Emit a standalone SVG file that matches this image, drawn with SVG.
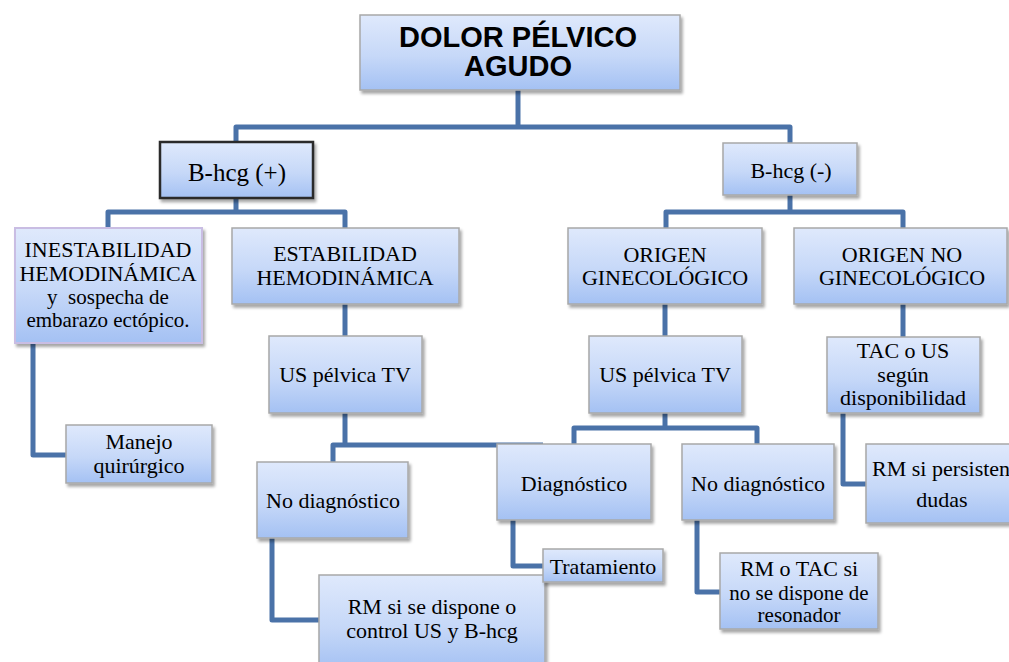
<svg xmlns="http://www.w3.org/2000/svg" width="1009" height="662" viewBox="0 0 1009 662">
<defs>
<linearGradient id="g" x1="0" y1="0" x2="0" y2="1">
<stop offset="0" stop-color="#dfe9fc"/>
<stop offset="0.55" stop-color="#c6d8f8"/>
<stop offset="1" stop-color="#a4c1f3"/>
</linearGradient>
<filter id="sh" x="-10%" y="-10%" width="125%" height="130%">
<feDropShadow dx="2" dy="3" stdDeviation="1.5" flood-color="#000" flood-opacity="0.35"/>
</filter>
<style>
.box{fill:url(#g);stroke:#a8a8a8;stroke-width:1.5;filter:url(#sh)}
.dark{stroke:#2b2b2b;stroke-width:2.5}
.pur{stroke:#c9bde3;stroke-width:2}
.t{font-family:"Liberation Serif","Times New Roman",serif;font-size:22px;fill:#000;text-anchor:middle}
.s{font-size:21px}
.title{font-family:"Liberation Sans",Arial,sans-serif;font-weight:bold;font-size:29px;fill:#000;text-anchor:middle}
.c{fill:none;stroke:#4a72a8;stroke-width:5;stroke-linejoin:round}
</style>
</defs>
<rect width="1009" height="662" fill="#fff"/>
<g id="connectors">
<path class="c" d="M518,90 V127"/>
<path class="c" d="M236,142 V127 H790 V143"/>
<path class="c" d="M236,198 V212"/>
<path class="c" d="M108,228 V212 H345 V228"/>
<path class="c" d="M33,343 V455 H66"/>
<path class="c" d="M345,304 V336"/>
<path class="c" d="M345,413 V445"/>
<path class="c" d="M333,462 V445 H543"/>
<path class="c" d="M272,538 V620 H319"/>
<path class="c" d="M790,195 V212"/>
<path class="c" d="M666,228 V212 H903 V228"/>
<path class="c" d="M665,304 V336"/>
<path class="c" d="M903,304 V337"/>
<path class="c" d="M665,413 V428"/>
<path class="c" d="M574,444 V428 H757 V444"/>
<path class="c" d="M513,520 V566 H543"/>
<path class="c" d="M697,520 V592 H720"/>
<path class="c" d="M843,413 V484 H866"/>
</g>
<g id="root">
<rect class="box" x="360" y="15" width="320" height="75"/>
<text class="title" x="518" y="47">DOLOR PÉLVICO</text>
<text class="title" x="518" y="76">AGUDO</text>
</g>
<g id="bhcg-pos">
<rect class="box dark" x="160" y="142" width="153" height="56"/>
<text class="t" x="237" y="181" style="font-size:25px">B-hcg (+)</text>
</g>
<g id="bhcg-neg">
<rect class="box" x="723" y="143" width="134" height="52"/>
<text class="t" x="791" y="178">B-hcg (-)</text>
</g>
<g id="inestabilidad">
<rect class="box pur" x="15" y="228" width="187" height="115"/>
<text class="t" x="108" y="257">INESTABILIDAD</text>
<text class="t" x="108" y="281">HEMODINÁMICA</text>
<text class="t s" x="108" y="304" xml:space="preserve">y  sospecha de</text>
<text class="t s" x="108" y="327">embarazo ectópico.</text>
</g>
<g id="estabilidad">
<rect class="box" x="232" y="228" width="227" height="76"/>
<text class="t" x="345" y="261">ESTABILIDAD</text>
<text class="t" x="345" y="285">HEMODINÁMICA</text>
</g>
<g id="origen-gin">
<rect class="box" x="568" y="228" width="194" height="76"/>
<text class="t" x="665" y="262">ORIGEN</text>
<text class="t" x="665" y="285">GINECOLÓGICO</text>
</g>
<g id="origen-no-gin">
<rect class="box" x="794" y="228" width="213" height="76"/>
<text class="t" x="902" y="262">ORIGEN NO</text>
<text class="t" x="902" y="285">GINECOLÓGICO</text>
</g>
<g id="manejo">
<rect class="box" x="66" y="425" width="146" height="58"/>
<text class="t" x="139" y="449">Manejo</text>
<text class="t" x="139" y="473">quirúrgico</text>
</g>
<g id="us-left">
<rect class="box" x="269" y="336" width="153" height="77"/>
<text class="t" x="345" y="382">US pélvica TV</text>
</g>
<g id="us-right">
<rect class="box" x="589" y="336" width="153" height="77"/>
<text class="t" x="665" y="382">US pélvica TV</text>
</g>
<g id="tac-us">
<rect class="box" x="827" y="337" width="153" height="76"/>
<text class="t" x="903" y="358">TAC o US</text>
<text class="t" x="903" y="382">según</text>
<text class="t" x="903" y="405">disponibilidad</text>
</g>
<g id="no-diag-left">
<rect class="box" x="257" y="462" width="151" height="76"/>
<text class="t" x="333" y="508">No diagnóstico</text>
</g>
<g id="diagnostico">
<rect class="box" x="497" y="444" width="154" height="76"/>
<text class="t" x="574" y="491">Diagnóstico</text>
</g>
<g id="no-diag-right">
<rect class="box" x="682" y="444" width="152" height="76"/>
<text class="t" x="758" y="491">No diagnóstico</text>
</g>
<g id="rm-persisten">
<rect class="box" x="866" y="444" width="152" height="79"/>
<text class="t" x="872" y="476" style="text-anchor:start">RM si persisten</text>
<text class="t" x="942" y="507">dudas</text>
</g>
<g id="rm-control">
<rect class="box" x="319" y="575" width="226" height="95"/>
<text class="t" x="432" y="614">RM si se dispone o</text>
<text class="t" x="432" y="638">control US y B-hcg</text>
</g>
<g id="tratamiento">
<rect class="box" x="543" y="549" width="120" height="33"/>
<text class="t" x="603" y="574">Tratamiento</text>
</g>
<g id="rm-tac">
<rect class="box" x="720" y="553" width="158" height="76"/>
<text class="t" x="799" y="576">RM o TAC si</text>
<text class="t s" x="799" y="600">no se dispone de</text>
<text class="t s" x="799" y="622">resonador</text>
</g>
</svg>
